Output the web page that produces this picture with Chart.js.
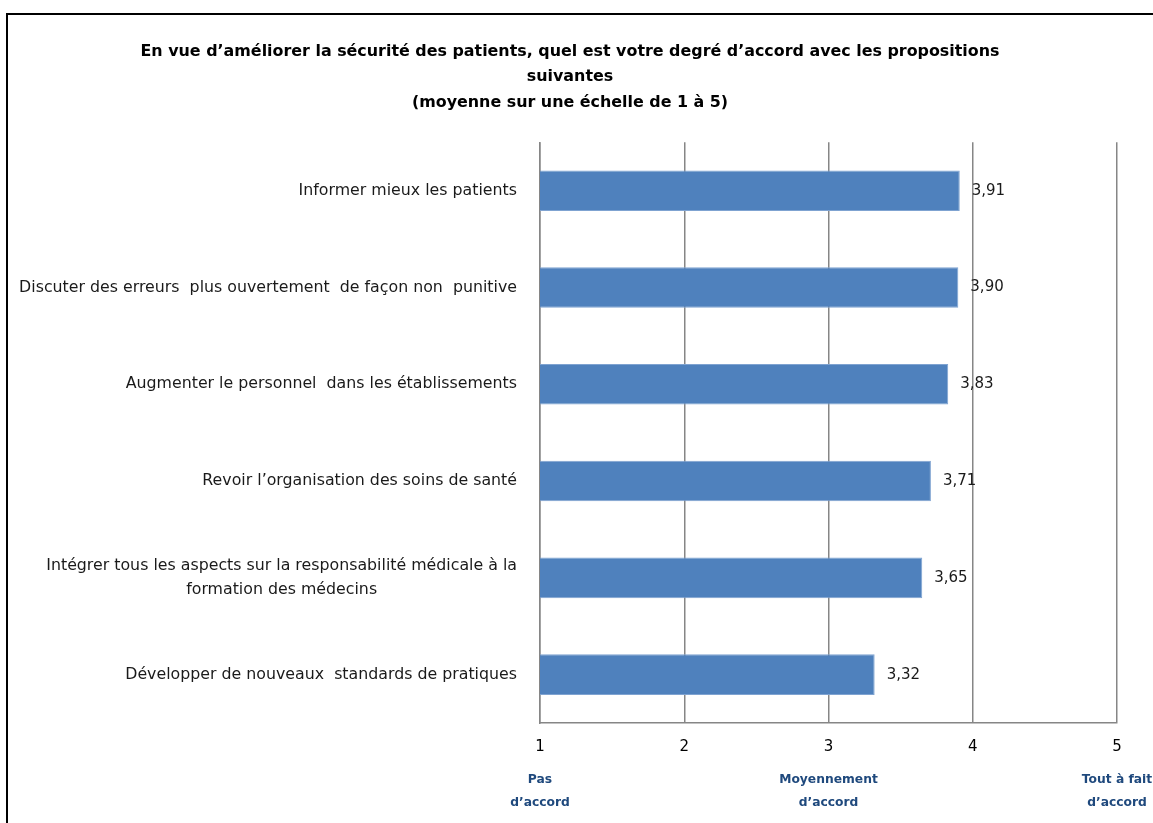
<!DOCTYPE html>
<html>
<head>
<meta charset="utf-8">
<script src="https://cdn.jsdelivr.net/npm/chart.js@4.4.0/dist/chart.umd.min.js"></script>
<style>
  html, body { margin: 0; padding: 0; background: #fff; overflow: hidden; }
  #wrap { position: relative; width: 1153px; height: 823px; }
  #frame { position: absolute; left: 6px; top: 13px; width: 1200px; height: 900px; border: 2px solid #000; }
  canvas { position: absolute; left: 0; top: 0; }
</style>
</head>
<body>
<div id="wrap">
  <div id="frame"></div>
  <canvas id="chart" width="1153" height="823"></canvas>
</div>
<script>
var titleLines = [
  'En vue d’améliorer la sécurité des patients, quel est votre degré d’accord avec les propositions',
  'suivantes',
  '(moyenne sur une échelle de 1 à 5)'
];
var categories = [
  ['Informer mieux les patients'],
  ['Discuter des erreurs  plus ouvertement  de façon non  punitive'],
  ['Augmenter le personnel  dans les établissements'],
  ['Revoir l’organisation des soins de santé'],
  ['Intégrer tous les aspects sur la responsabilité médicale à la', 'formation des médecins'],
  ['Développer de nouveaux  standards de pratiques']
];
var values = [3.91, 3.90, 3.83, 3.71, 3.65, 3.32];
var tickValues = [1, 2, 3, 4, 5];
var scaleNotes = [['Pas', 'd’accord'], [], ['Moyennement', 'd’accord'], [], ['Tout à fait', 'd’accord']];

var FONT = '"DejaVu Sans", Verdana, sans-serif';

var labelPlugin = {
  id: 'customLabels',
  afterDraw: function(chart) {
    var ctx = chart.ctx;
    var xs = chart.scales.x, ys = chart.scales.y;
    ctx.save();
    ctx.textBaseline = 'middle';

    // category labels: block right-aligned, lines centred inside the block
    ctx.font = '15.8px ' + FONT;
    ctx.fillStyle = '#1a1a1a';
    ctx.textAlign = 'center';
    categories.forEach(function(lines, i) {
      var yc = ys.getPixelForValue(i);
      var w = Math.max.apply(null, lines.map(function(l) { return ctx.measureText(l).width; }));
      var right = ys.right - 23;
      lines.forEach(function(l, j) {
        ctx.fillText(l, right - w / 2, yc + (j - (lines.length - 1) / 2) * 24);
      });
    });

    // value labels
    ctx.font = '15px ' + FONT;
    ctx.textAlign = 'left';
    values.forEach(function(v, i) {
      ctx.fillText(v.toFixed(2).replace('.', ','), xs.getPixelForValue(v) + 12, ys.getPixelForValue(i));
    });

    // notes under the scale
    ctx.font = 'bold 12.3px ' + FONT;
    ctx.fillStyle = '#1F497D';
    ctx.textAlign = 'center';
    tickValues.forEach(function(t, i) {
      var px = xs.getPixelForValue(t);
      scaleNotes[i].forEach(function(l, j) {
        ctx.fillText(l, px, xs.top + 57 + j * 23);
      });
    });
    ctx.restore();
  }
};

new Chart(document.getElementById('chart'), {
  type: 'bar',
  data: {
    labels: categories.map(function(c) { return c.join(' '); }),
    datasets: [{
      data: values,
      backgroundColor: '#4F81BD',
      borderColor: '#7FA3D1',
      borderWidth: 1,
      barPercentage: 0.42,
      categoryPercentage: 1
    }]
  },
  options: {
    indexAxis: 'y',
    responsive: false,
    animation: false,
    layout: { padding: { left: 23, right: 36, top: 0, bottom: 0 } },
    plugins: {
      legend: { display: false },
      tooltip: { enabled: false },
      title: {
        display: true,
        text: titleLines,
        color: '#000',
        font: { family: FONT, size: 15.9, weight: 'bold', lineHeight: 1.6 },
        padding: { top: 39, bottom: 27 }
      }
    },
    scales: {
      x: {
        min: 1,
        max: 5,
        afterBuildTicks: function(scale) {
          scale.ticks = tickValues.map(function(v) { return { value: v }; });
        },
        afterFit: function(scale) { scale.height = 100; },
        grid: { display: true, color: '#868686', lineWidth: 1.5, drawTicks: false },
        border: { display: true, color: '#868686', width: 1.5 },
        ticks: { color: '#000', padding: 15, font: { family: FONT, size: 15 } }
      },
      y: {
        afterFit: function(scale) { scale.width = 517; },
        grid: { display: false },
        border: { display: true, color: '#868686', width: 1.5 },
        ticks: { display: false }
      }
    }
  },
  plugins: [labelPlugin]
});
</script>
</body>
</html>
